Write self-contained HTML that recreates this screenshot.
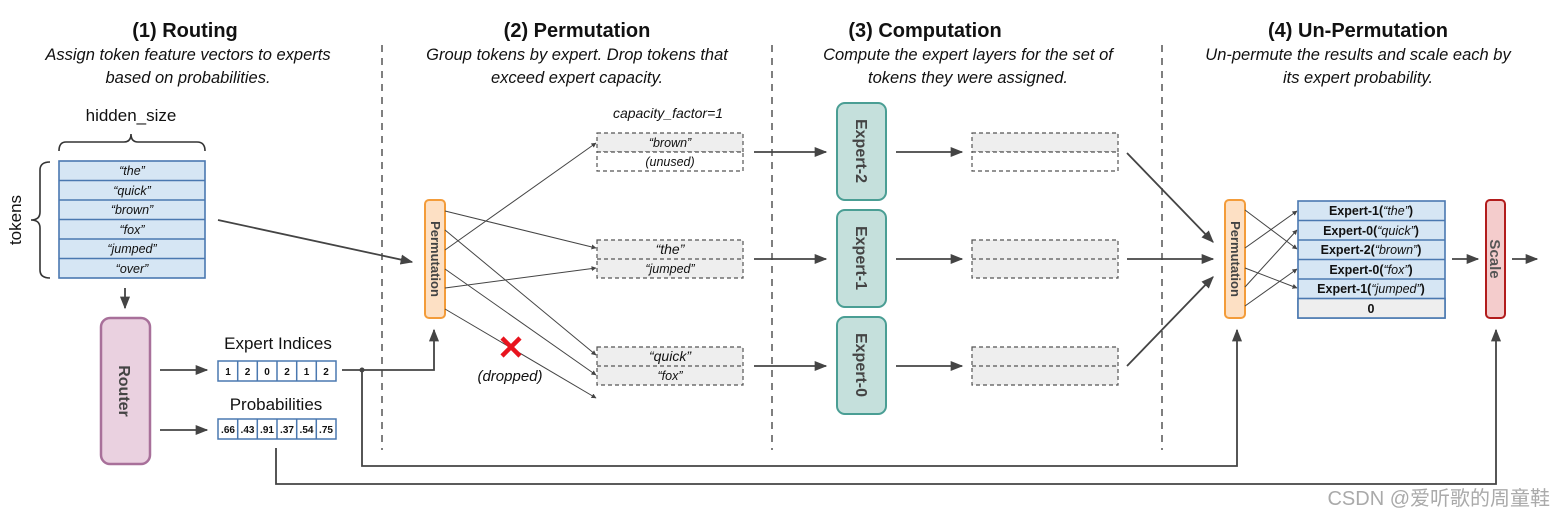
<!DOCTYPE html>
<html><head><meta charset="utf-8"><style>
html,body{margin:0;padding:0;background:#fff;}
svg{display:block;font-family:"Liberation Sans",sans-serif;}
</style></head><body>
<svg width="1560" height="529" viewBox="0 0 1560 529" xmlns="http://www.w3.org/2000/svg">
<defs>
<marker id="a" viewBox="0 0 10 10" refX="9" refY="5" markerWidth="5" markerHeight="5" orient="auto"><path d="M0,0 L10,5 L0,10 z" fill="#444"/></marker>
<marker id="s" viewBox="0 0 10 10" refX="9" refY="5" markerWidth="7" markerHeight="7" orient="auto"><path d="M0,1 L10,5 L0,9 z" fill="#444"/></marker>
</defs>
<g text-anchor="middle" fill="#111">
<text x="185" y="37" font-size="20" font-weight="bold">(1) Routing</text>
<text x="577" y="37" font-size="20" font-weight="bold">(2) Permutation</text>
<text x="925" y="37" font-size="20" font-weight="bold">(3) Computation</text>
<text x="1358" y="37" font-size="20" font-weight="bold">(4) Un-Permutation</text>
<g font-size="16.5" font-style="italic">
<text x="188" y="60">Assign token feature vectors to experts</text>
<text x="188" y="83">based on probabilities.</text>
<text x="577" y="60">Group tokens by expert. Drop tokens that</text>
<text x="577" y="83">exceed expert capacity.</text>
<text x="968" y="60">Compute the expert layers for the set of</text>
<text x="968" y="83">tokens they were assigned.</text>
<text x="1358" y="60">Un-permute the results and scale each by</text>
<text x="1358" y="83">its expert probability.</text>
</g></g>
<g stroke="#555" stroke-width="1.5" stroke-dasharray="7,6">
<line x1="382" y1="45" x2="382" y2="450"/><line x1="772" y1="45" x2="772" y2="450"/><line x1="1162" y1="45" x2="1162" y2="450"/>
</g>
<text x="131" y="121" font-size="17" text-anchor="middle" fill="#111">hidden_size</text>
<path d="M59,151 Q59,142 66,142 L124,142 Q131,142 131,134 Q131,142 138,142 L197,142 Q205,142 205,151" fill="none" stroke="#333" stroke-width="1.6"/>
<path d="M50,162 Q40,162 40,170 L40,212 Q40,220 31,220 Q40,220 40,228 L40,270 Q40,278 50,278" fill="none" stroke="#333" stroke-width="1.6"/>
<text transform="translate(21,220) rotate(-90)" font-size="17" text-anchor="middle" fill="#111">tokens</text>
<g stroke="#4a78b0" stroke-width="1.6" fill="#d6e6f4">
<rect x="59" y="161" width="146" height="117"/>
<line x1="59" y1="180.5" x2="205" y2="180.5"/><line x1="59" y1="200" x2="205" y2="200"/><line x1="59" y1="219.5" x2="205" y2="219.5"/><line x1="59" y1="239" x2="205" y2="239"/><line x1="59" y1="258.5" x2="205" y2="258.5"/>
</g>
<g font-size="12.5" font-style="italic" text-anchor="middle" fill="#111">
<text x="132" y="175">“the”</text><text x="132" y="195">“quick”</text><text x="132" y="214">“brown”</text><text x="132" y="234">“fox”</text><text x="132" y="253">“jumped”</text><text x="132" y="273">“over”</text>
</g>
<g stroke="#444" stroke-width="1.8" fill="none" marker-end="url(#s)">
<line x1="125" y1="288" x2="125" y2="308"/>
<line x1="160" y1="370" x2="207" y2="370"/>
<line x1="160" y1="430" x2="207" y2="430"/>
<line x1="218" y1="220" x2="412" y2="262"/>
<polyline points="342,370 434,370 434,330"/>
<polyline points="362,370 362,466 1237,466 1237,330"/>
<polyline points="276,448 276,484 1496,484 1496,330"/>
<line x1="754" y1="152" x2="826" y2="152"/><line x1="754" y1="259" x2="826" y2="259"/><line x1="754" y1="366" x2="826" y2="366"/>
<line x1="896" y1="152" x2="962" y2="152"/><line x1="896" y1="259" x2="962" y2="259"/><line x1="896" y1="366" x2="962" y2="366"/>
<line x1="1127" y1="153" x2="1213" y2="242"/><line x1="1127" y1="259" x2="1213" y2="259"/><line x1="1127" y1="366" x2="1213" y2="277"/>
<line x1="1452" y1="259" x2="1478" y2="259"/><line x1="1512" y1="259" x2="1537" y2="259"/>
</g>
<circle cx="362" cy="370" r="2.5" fill="#444"/>
<rect x="101" y="318" width="49" height="146" rx="9" fill="#ead1e0" stroke="#a8709a" stroke-width="2.5"/>
<text transform="translate(119,391) rotate(90)" font-size="16" font-weight="bold" text-anchor="middle" fill="#444">Router</text>
<text x="278" y="349" font-size="17" text-anchor="middle" fill="#111">Expert Indices</text>
<text x="276" y="410" font-size="17" text-anchor="middle" fill="#111">Probabilities</text>
<g stroke="#4a78b0" stroke-width="1.5" fill="#fff">
<rect x="218" y="361" width="118" height="20"/><rect x="218" y="419" width="118" height="20"/>
<path d="M237.7,361v20M257.3,361v20M277,361v20M296.7,361v20M316.3,361v20M237.7,419v20M257.3,419v20M277,419v20M296.7,419v20M316.3,419v20"/>
</g>
<g font-size="10" font-weight="bold" text-anchor="middle" fill="#111">
<text x="228" y="375">1</text><text x="247.5" y="375">2</text><text x="267" y="375">0</text><text x="287" y="375">2</text><text x="306.5" y="375">1</text><text x="326" y="375">2</text>
<text x="228" y="433">.66</text><text x="247.5" y="433">.43</text><text x="267" y="433">.91</text><text x="287" y="433">.37</text><text x="306.5" y="433">.54</text><text x="326" y="433">.75</text>
</g>
<rect x="425" y="200" width="20" height="118" rx="4" fill="#fde0c4" stroke="#f39c3a" stroke-width="2"/>
<text transform="translate(431,259) rotate(90)" font-size="13" font-weight="bold" text-anchor="middle" fill="#444">Permutation</text>
<g stroke="#444" stroke-width="1" marker-end="url(#a)">
<line x1="445" y1="211" x2="596" y2="248"/>
<line x1="445" y1="230" x2="596" y2="355"/>
<line x1="445" y1="250" x2="596" y2="143"/>
<line x1="445" y1="269" x2="596" y2="375"/>
<line x1="445" y1="288" x2="596" y2="268"/>
<line x1="445" y1="309" x2="596" y2="398"/>
</g>
<path d="M502,338 L520,356 M520,338 L502,356" stroke="#e8141e" stroke-width="4.5"/>
<text x="510" y="381" font-size="15" font-style="italic" text-anchor="middle" fill="#111">(dropped)</text>
<text x="668" y="118" font-size="14" font-style="italic" text-anchor="middle" fill="#111">capacity_factor=1</text>
<g stroke="#555" stroke-width="1.2" stroke-dasharray="4,3">
<rect x="597" y="133" width="146" height="19" fill="#eee"/><rect x="597" y="152" width="146" height="19" fill="#fff"/>
<rect x="597" y="240" width="146" height="38" fill="#eee"/><line x1="597" y1="259" x2="743" y2="259"/>
<rect x="597" y="347" width="146" height="38" fill="#eee"/><line x1="597" y1="366" x2="743" y2="366"/>
<rect x="972" y="133" width="146" height="19" fill="#eee"/><rect x="972" y="152" width="146" height="19" fill="#fff"/>
<rect x="972" y="240" width="146" height="38" fill="#eee"/><line x1="972" y1="259" x2="1118" y2="259"/>
<rect x="972" y="347" width="146" height="38" fill="#eee"/><line x1="972" y1="366" x2="1118" y2="366"/>
</g>
<g font-size="12.5" font-style="italic" text-anchor="middle" fill="#111">
<text x="670" y="147">“brown”</text><text x="670" y="166">(unused)</text>
<text x="670" y="254" font-size="14">“the”</text><text x="670" y="273">“jumped”</text>
<text x="670" y="361" font-size="14">“quick”</text><text x="670" y="380">“fox”</text>
</g>
<g fill="#c5e0dc" stroke="#4a9e94" stroke-width="2">
<rect x="837" y="103" width="49" height="97" rx="8"/><rect x="837" y="210" width="49" height="97" rx="8"/><rect x="837" y="317" width="49" height="97" rx="8"/>
</g>
<g font-size="16" font-weight="bold" text-anchor="middle" fill="#444">
<text transform="translate(856,151) rotate(90)">Expert-2</text>
<text transform="translate(856,258) rotate(90)">Expert-1</text>
<text transform="translate(856,365) rotate(90)">Expert-0</text>
</g>
<rect x="1225" y="200" width="20" height="118" rx="4" fill="#fde0c4" stroke="#f39c3a" stroke-width="2"/>
<text transform="translate(1231,259) rotate(90)" font-size="13" font-weight="bold" text-anchor="middle" fill="#444">Permutation</text>
<g stroke="#444" stroke-width="1" marker-end="url(#a)">
<line x1="1245" y1="210" x2="1297" y2="249"/>
<line x1="1245" y1="248" x2="1297" y2="211"/>
<line x1="1245" y1="268" x2="1297" y2="288"/>
<line x1="1245" y1="287" x2="1297" y2="230"/>
<line x1="1245" y1="306" x2="1297" y2="269"/>
</g>
<g stroke="#4a78b0" stroke-width="1.6" fill="#d6e6f4">
<rect x="1298" y="201" width="147" height="117"/>
<rect x="1298" y="298.5" width="147" height="19.5" fill="#eee"/>
<line x1="1298" y1="220.5" x2="1445" y2="220.5"/><line x1="1298" y1="240" x2="1445" y2="240"/><line x1="1298" y1="259.5" x2="1445" y2="259.5"/><line x1="1298" y1="279" x2="1445" y2="279"/>
</g>
<g font-size="12.5" font-weight="bold" text-anchor="middle" fill="#111">
<text x="1371" y="215">Expert-1(<tspan font-weight="normal" font-style="italic">“the”</tspan>)</text>
<text x="1371" y="235">Expert-0(<tspan font-weight="normal" font-style="italic">“quick”</tspan>)</text>
<text x="1371" y="254">Expert-2(<tspan font-weight="normal" font-style="italic">“brown”</tspan>)</text>
<text x="1371" y="274">Expert-0(<tspan font-weight="normal" font-style="italic">“fox”</tspan>)</text>
<text x="1371" y="293">Expert-1(<tspan font-weight="normal" font-style="italic">“jumped”</tspan>)</text>
<text x="1371" y="313">0</text>
</g>
<rect x="1486" y="200" width="19" height="118" rx="4" fill="#f4cccc" stroke="#b21c1c" stroke-width="2"/>
<text transform="translate(1490,259) rotate(90)" font-size="15" font-weight="bold" text-anchor="middle" fill="#555">Scale</text>
<text x="1550" y="505" font-size="20" text-anchor="end" fill="#aaa" font-family="'Liberation Sans','Noto Sans CJK SC',sans-serif">CSDN @爱听歌的周童鞋</text>
</svg>
</body></html>
